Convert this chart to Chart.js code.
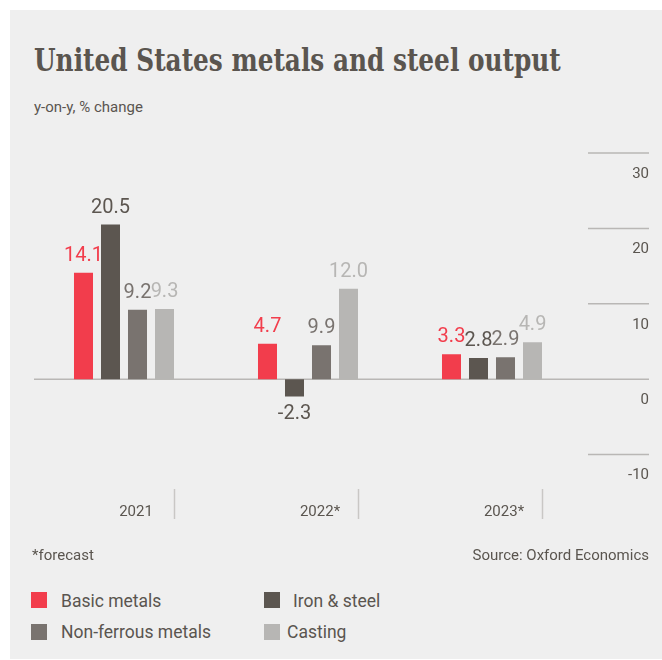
<!DOCTYPE html>
<html>
<head>
<meta charset="utf-8">
<script src="https://cdn.jsdelivr.net/npm/chart.js@4.4.1/dist/chart.umd.min.js"></script>
<style>
  body { margin: 0; width: 662px; height: 660px; background: #ffffff; position: relative; overflow: hidden; }
  #panel { position: absolute; left: 10px; top: 10px; width: 652px; height: 649px; background: #efefef; }
  .txt { position: absolute; white-space: nowrap; color: #5a554f; font-family: Roboto, "Noto Sans", sans-serif; }
  #title { left: 34px; top: 42px; font-family: "DejaVu Serif Condensed", "DejaVu Serif", serif; font-weight: bold;
           font-size: 31px; line-height: 36px; transform-origin: 0 0; }
  #subtitle { left: 34px; top: 97px; font-size: 15px; line-height: 20px; }
  #note { left: 32px; top: 545px; font-size: 15px; line-height: 20px; }
  #source { right: 13px; top: 545px; font-size: 15px; line-height: 20px; }
  .box { position: absolute; width: 16px; height: 16px; }
  .leg { font-size: 17.5px; line-height: 20px; }
  #chartWrap { position: absolute; left: 10px; top: 130px; width: 652px; height: 449px; }
</style>
</head>
<body>
<div id="panel"></div>
<div id="title" class="txt">United States metals and steel output</div>
<div id="subtitle" class="txt">y-on-y, % change</div>
<div id="chartWrap"><canvas id="chart" width="652" height="449"></canvas></div>
<div id="note" class="txt">*forecast</div>
<div id="source" class="txt">Source: Oxford Economics</div>
<div id="legend"></div>

<script>
// Datos
const categories = ['2021', '2022*', '2023*'];
const basicMetals = [14.1, 4.7, 3.3];
const ironSteel = [20.5, -2.3, 2.8];
const nonFerrous = [9.2, 4.5, 2.9];          // la barra de 2022 está dibujada a ~4.5
const nonFerrousLabels = ['9.2', '9.9', '2.9']; // pero la etiqueta dice 9.9
const casting = [9.3, 12.0, 4.9];
const yTicks = [30, 20, 10, 0, -10];

const series = [
  { label: 'Basic metals', data: basicMetals, color: '#f23d4c' },
  { label: 'Iron & steel', data: ironSteel, color: '#5c5650' },
  { label: 'Non-ferrous metals', data: nonFerrous, color: '#79736f', texts: nonFerrousLabels },
  { label: 'Casting', data: casting, color: '#b7b6b4' }
];

const textColor = '#5a554f';

// Líneas de referencia, ticks del eje y, separadores y etiquetas de valor
const decorPlugin = {
  id: 'decor',
  beforeDatasetsDraw(chart) {
    const { ctx, chartArea, scales: { x, y } } = chart;
    ctx.save();
    ctx.strokeStyle = '#b9b7b5';
    ctx.lineWidth = 1.5;
    yTicks.forEach(t => {
      const py = y.getPixelForValue(t);
      ctx.beginPath();
      ctx.moveTo(t === 0 ? chartArea.left + 2 : chartArea.right + 4, py);
      ctx.lineTo(chartArea.right + 65, py);
      ctx.stroke();
    });

    ctx.fillStyle = textColor;
    ctx.font = '15px Roboto, sans-serif';
    ctx.textAlign = 'right';
    ctx.textBaseline = 'middle';
    yTicks.forEach(t => {
      ctx.fillText(String(t), chartArea.right + 65, y.getPixelForValue(t) + 21);
    });

    // separadores verticales bajo cada año
    ctx.strokeStyle = '#c9c7c5';
    categories.forEach((c, i) => {
      const px = Math.round(x.getPixelForValue(i) + 49.5) + 0.5;
      ctx.beginPath();
      ctx.moveTo(px, chartArea.bottom + 34.5);
      ctx.lineTo(px, chartArea.bottom + 64.5);
      ctx.stroke();
    });
    ctx.restore();
  },
  afterDatasetsDraw(chart) {
    const { ctx } = chart;
    ctx.save();
    ctx.font = '20px Roboto, sans-serif';
    ctx.textAlign = 'center';
    ctx.textBaseline = 'alphabetic';
    chart.data.datasets.forEach((ds, di) => {
      const meta = chart.getDatasetMeta(di);
      ctx.fillStyle = ds.backgroundColor;
      meta.data.forEach((bar, i) => {
        const v = ds.data[i];
        const txt = ds.texts ? ds.texts[i] : v.toFixed(1);
        const ty = v >= 0 ? bar.y - 12 : bar.y + 23;
        ctx.fillText(txt, bar.x, ty);
      });
    });
    ctx.restore();
  }
};

new Chart(document.getElementById('chart'), {
  type: 'bar',
  data: {
    labels: categories,
    datasets: series.map(s => ({
      label: s.label,
      data: s.data,
      texts: s.texts,
      backgroundColor: s.color,
      borderWidth: 0,
      categoryPercentage: 0.587,
      barPercentage: 0.704
    }))
  },
  options: {
    responsive: false,
    animation: false,
    layout: { padding: { left: 22, right: 78, top: 23, bottom: 9.5 } },
    plugins: {
      legend: { display: false },
      tooltip: { enabled: false }
    },
    scales: {
      x: {
        grid: { display: false, drawTicks: false },
        border: { display: false },
        ticks: {
          color: textColor,
          font: { family: 'Roboto', size: 15 },
          labelOffset: 12,
          padding: 48.5
        }
      },
      y: {
        display: false,
        min: -10,
        max: 30,
        ticks: { stepSize: 10 }
      }
    }
  },
  plugins: [decorPlugin]
});

// Leyenda en HTML (2x2)
const legendPos = [
  { x: 31, y: 592, tx: 61, ty: 591 },
  { x: 264, y: 592, tx: 293, ty: 591 },
  { x: 31, y: 624, tx: 61, ty: 622 },
  { x: 264, y: 624, tx: 287, ty: 622 }
];
const legendEl = document.getElementById('legend');
series.forEach((s, i) => {
  const p = legendPos[i];
  const box = document.createElement('div');
  box.className = 'box';
  box.style.left = p.x + 'px';
  box.style.top = p.y + 'px';
  box.style.background = s.color;
  legendEl.appendChild(box);
  const t = document.createElement('div');
  t.className = 'txt leg';
  t.style.left = p.tx + 'px';
  t.style.top = p.ty + 'px';
  t.textContent = s.label;
  legendEl.appendChild(t);
});

// Ajustar el ancho del título al original
const title = document.getElementById('title');
const sx = 527 / title.offsetWidth;
title.style.transform = `scaleX(${sx})`;
</script>
</body>
</html>
